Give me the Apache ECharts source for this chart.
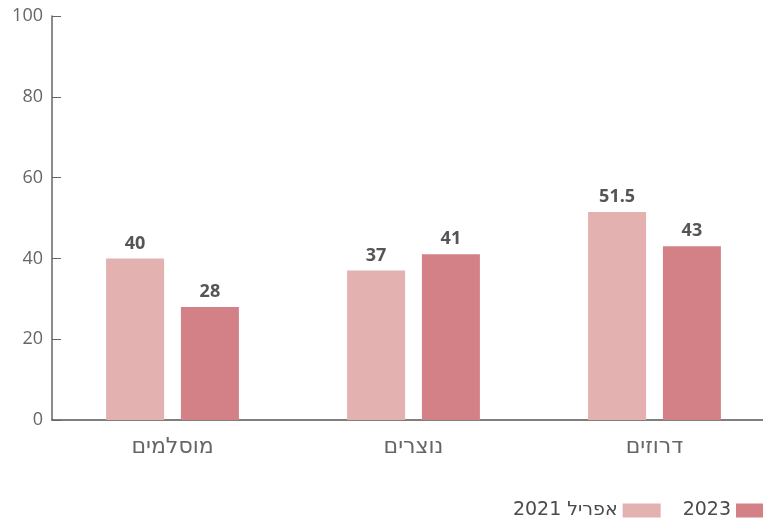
<!DOCTYPE html>
<html><head><meta charset="utf-8">
<script src="https://cdn.jsdelivr.net/npm/echarts@6/dist/echarts.min.js"></script>
<style>html,body{margin:0;padding:0;background:#fff;overflow:hidden}#c{width:790px;height:520px}</style>
</head><body><div id="c"></div>
<script>
const categories = ['מוסלמים', 'נוצרים', 'דרוזים'];
const seriesNames = ['אפריל 2021', '2023'];
const values2021 = [40, 37, 51.5];
const values2023 = [28, 41, 43];
const yTicks = [0, 20, 40, 60, 80, 100];
const colors = ['#e3b1b0', '#d38087'];

const chart = echarts.init(document.getElementById('c'));
const font = 'Open Sans';
const hebFont = 'DejaVu Sans';
chart.setOption({
  animation: false,
  grid: { left: 52, top: 16, width: 723, height: 404, containLabel: false },
  legend: {
    data: seriesNames,
    right: 11, bottom: -5,
    align: 'right',
    itemWidth: 38, itemHeight: 14, itemGap: 22,
    icon: 'rect',
    textStyle: { fontFamily: hebFont, fontSize: 19, color: '#4a4a4a' }
  },
  xAxis: {
    type: 'category', data: categories,
    axisLine: { lineStyle: { color: '#555', width: 1.5 } },
    axisTick: { inside: true, length: 9, lineStyle: { color: '#555' } },
    axisLabel: { fontFamily: hebFont, fontSize: 22, color: '#666', margin: 16 }
  },
  yAxis: {
    type: 'value', min: 0, max: 100, interval: 20,
    splitLine: { show: false },
    axisLine: { show: true, lineStyle: { color: '#666', width: 1.5 } },
    axisTick: { show: true, inside: true, length: 9, lineStyle: { color: '#666' } },
    axisLabel: { fontFamily: font, fontSize: 18, color: '#666', margin: 9,
      formatter: v => yTicks.includes(v) ? String(v) : '' }
  },
  series: [
    { name: seriesNames[0], type: 'bar', data: values2021, barWidth: 58, barGap: '29%',
      itemStyle: { color: colors[0] },
      label: { show: true, position: 'top', distance: 6, fontFamily: font, fontSize: 18, fontWeight: 'bold', color: '#555' } },
    { name: seriesNames[1], type: 'bar', data: values2023, barWidth: 58, barGap: '29%',
      itemStyle: { color: colors[1] },
      label: { show: true, position: 'top', distance: 6, fontFamily: font, fontSize: 18, fontWeight: 'bold', color: '#555' } }
  ]
});
</script></body></html>
